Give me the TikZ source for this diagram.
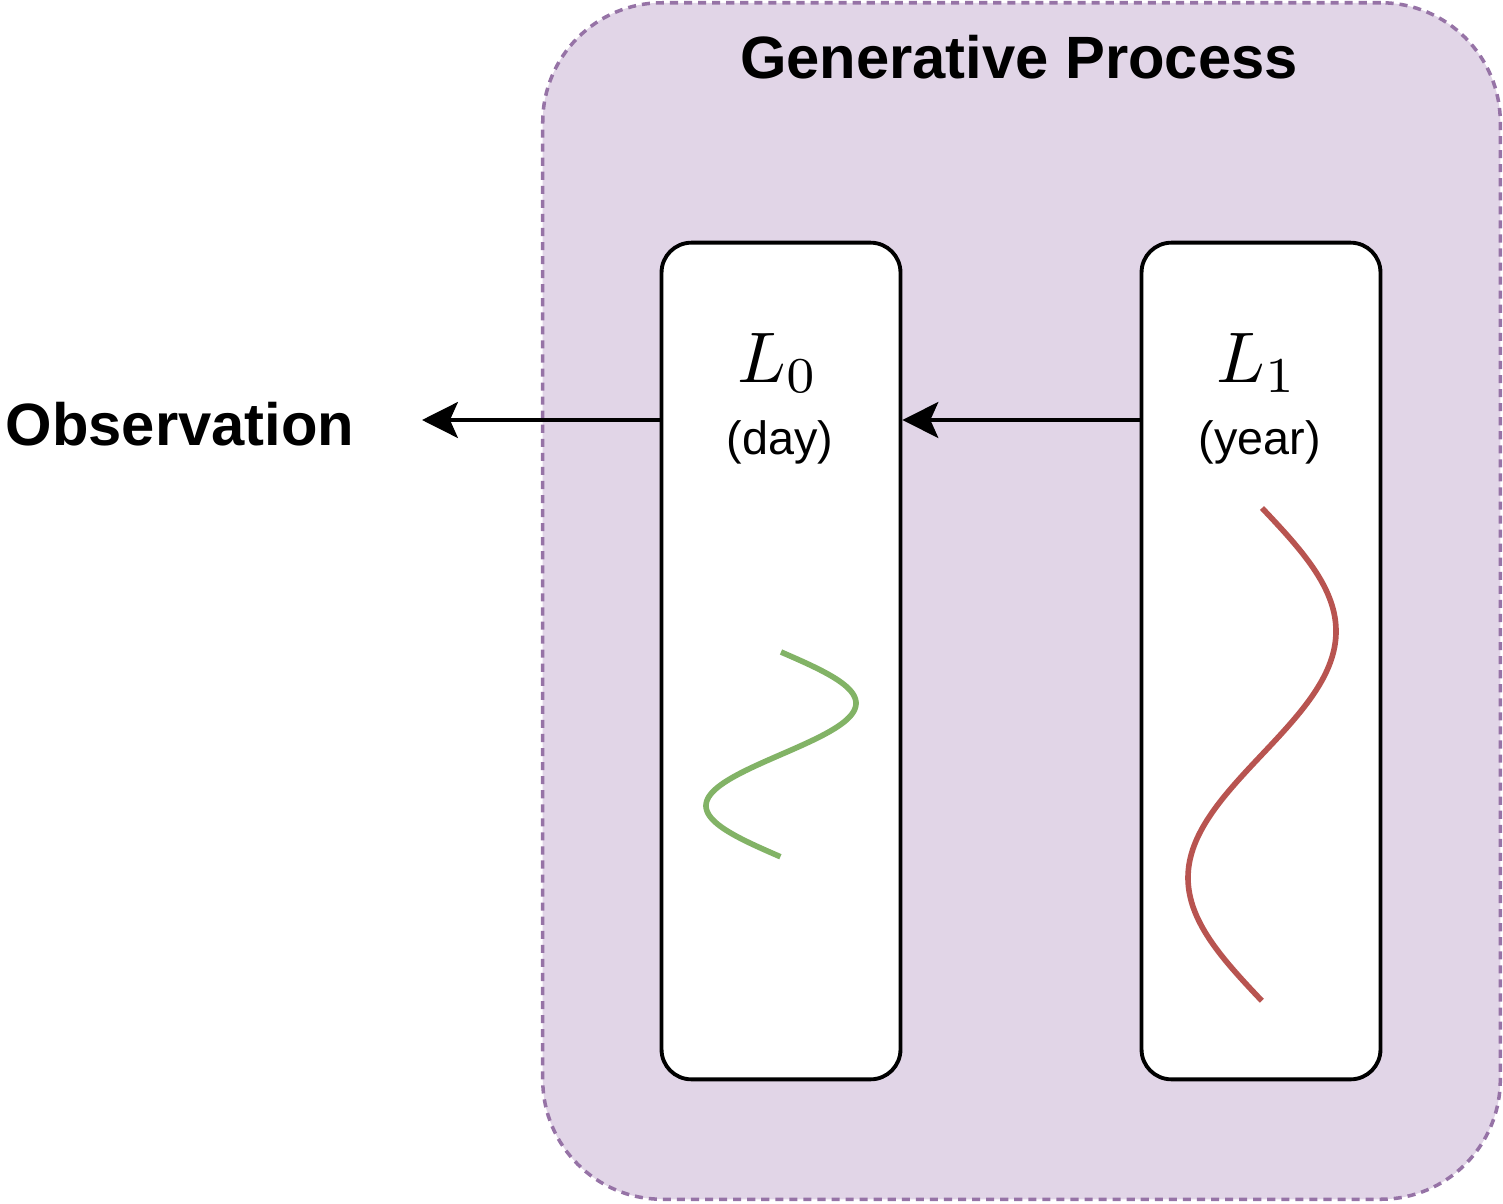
\documentclass[tikz,border=0pt]{standalone}
\usepackage{graphicx}
\usepackage{fontspec}
\setmainfont{Liberation Sans}
\usetikzlibrary{arrows.meta}
\definecolor{gpfill}{HTML}{E1D5E7}
\definecolor{gpdraw}{HTML}{9673A6}
\definecolor{curvegreen}{HTML}{82B366}
\definecolor{curvered}{HTML}{B85450}
\newcommand{\biglevel}[1]{\scalebox{4.08}{$#1$}}
\tikzset{
  container/.style={draw=gpdraw, fill=gpfill, line width=2pt, dash pattern=on 4.6pt off 3.4pt, rounded corners=68pt, minimum width=545pt, minimum height=681pt, inner sep=0pt},
  levelbox/.style={draw=black, fill=white, line width=2.2pt, rounded corners=17pt, minimum width=136pt, minimum height=476.2pt, inner sep=0pt},
  bigbold/.style={font=\fontsize{34}{40}\selectfont\bfseries, inner sep=0pt},
  sublabel/.style={font=\fontsize{26.6}{32}\selectfont, inner sep=0pt},
  mathlabel/.style={inner sep=0pt},
  arr/.style={line width=2.3pt, -{Stealth[length=20.4pt, width=20.4pt, inset=4.5pt]}},
  wave/.style={line width=3.2pt}
}
\begin{document}
\begin{tikzpicture}[x=0.02cm, y=-0.02cm]
\useasboundingbox (0,0) rectangle (1503,1203);
\node[container] (gp) at (1021.5,601) {};
\node[bigbold, anchor=base] (gptitle) at (1019,79) {Generative Process};
\node[levelbox] (l0) at (781,661) {};
\node[levelbox] (l1) at (1261,661) {};
\node[mathlabel, anchor=base] (l0m) at (778,382) {\biglevel{L_0}};
\node[sublabel, anchor=base] (l0t) at (780,454) {(day)};
\node[mathlabel, anchor=base] (l1m) at (1257,382) {\biglevel{L_1}};
\node[sublabel, anchor=base] (l1t) at (1260,454) {(year)};
\node[bigbold, anchor=base] (obs) at (180,445) {Observation};
\coordinate (ay) at (0,420);
\coordinate (obsend) at (422,420);
\draw[arr] (l1.west |- ay) -- (l0.east |- ay);
\draw[arr] (l0.west |- ay) -- (obsend);
\draw[wave, curvegreen] plot[domain=0:1, samples=120, smooth] ({781+75*sin(360*\x)}, {652+205*\x});
\draw[wave, curvered] plot[domain=0:1, samples=160, smooth] ({1262+74*sin(360*\x)}, {508+493*\x});
\end{tikzpicture}
\end{document}
